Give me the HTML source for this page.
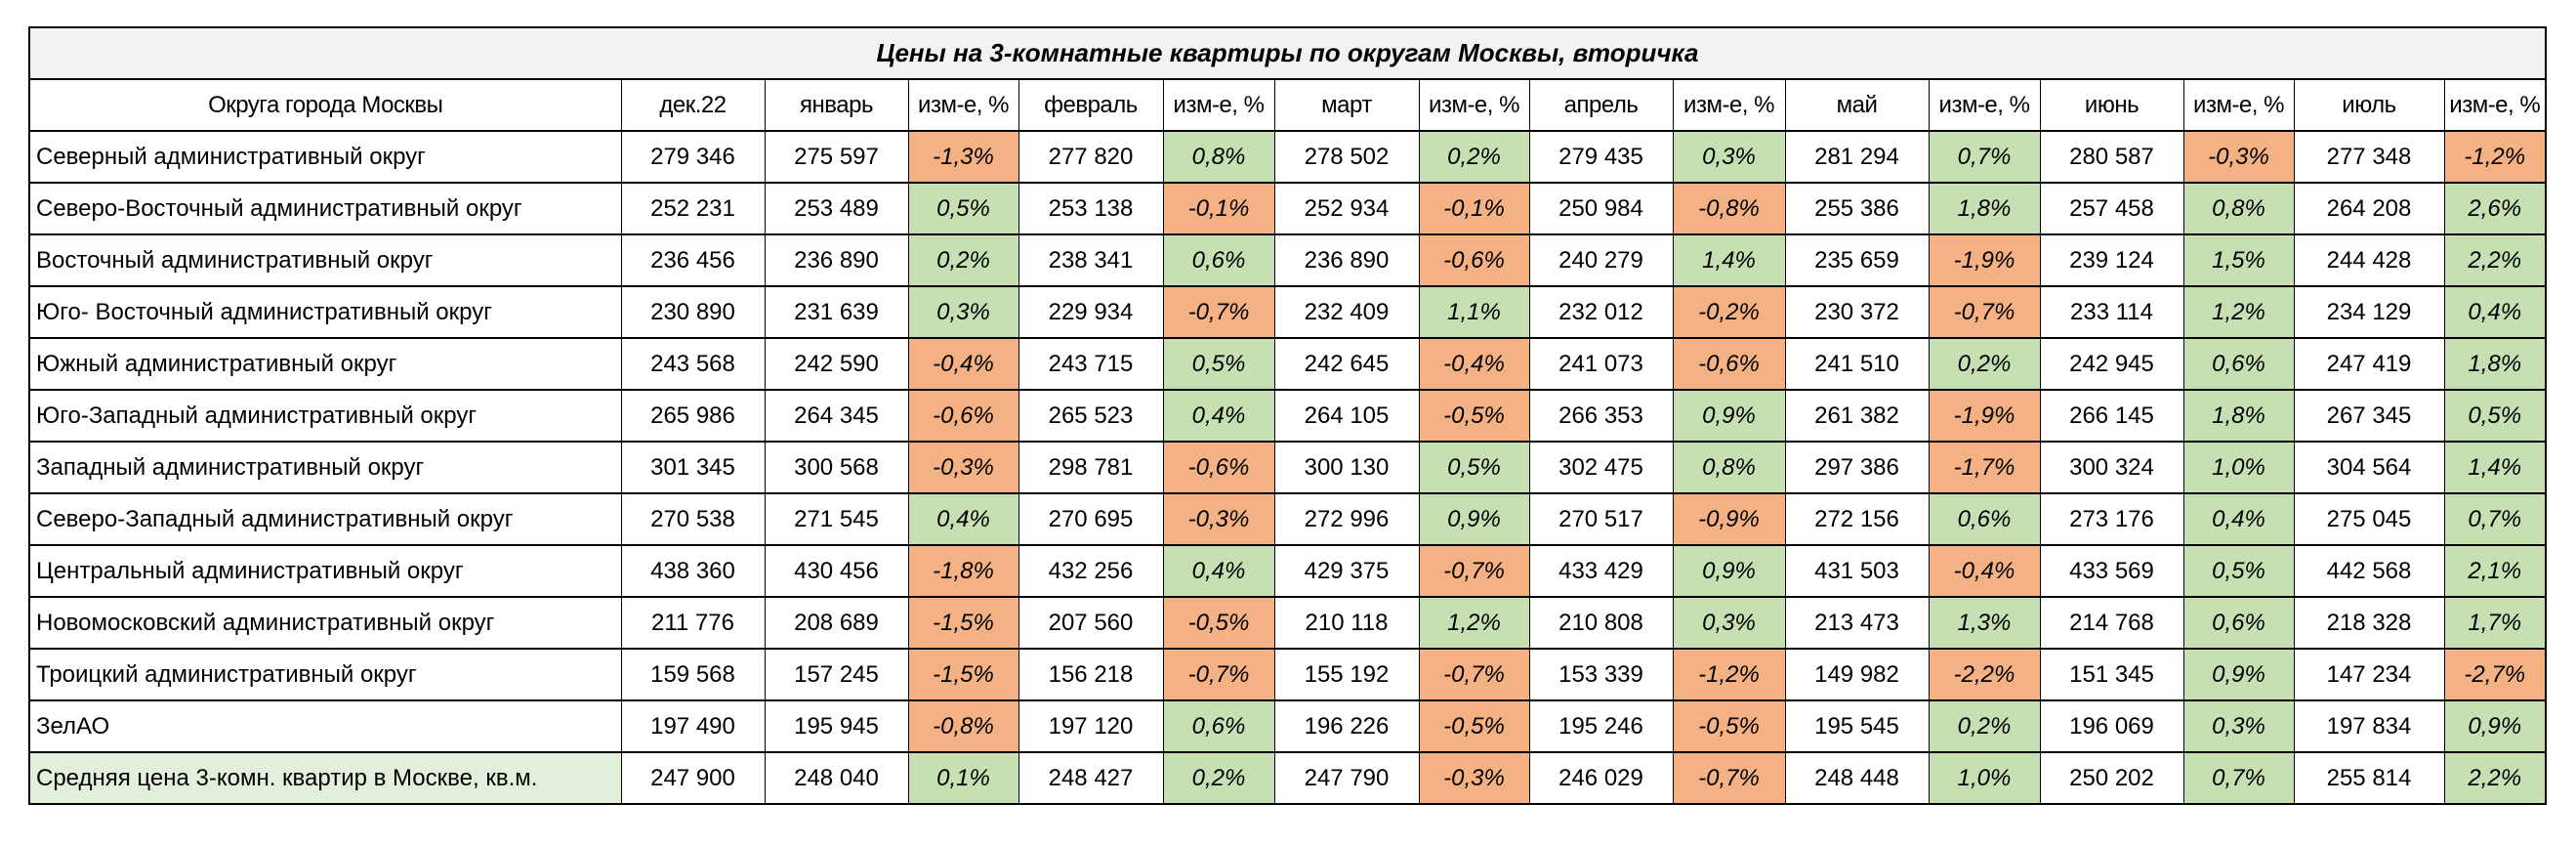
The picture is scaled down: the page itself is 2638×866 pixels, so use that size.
<!DOCTYPE html>
<html><head><meta charset="utf-8">
<style>
html,body{margin:0;padding:0;background:#fff;width:2638px;height:866px;overflow:hidden}
#tbl{position:absolute;left:29px;top:27px;border-collapse:collapse;table-layout:fixed;width:2577px;font-family:"Liberation Sans","Noto Sans CJK SC",sans-serif;font-size:24px;color:#000}
#tbl td{border:1px solid #000;border-top:2px solid #000;border-bottom:2px solid #000;height:51px;padding:0;text-align:center;white-space:nowrap;overflow:hidden}
#tbl td.name{text-align:left;padding-left:6px}
#tbl td.pct{font-style:italic}
#tbl td.neg{background:#F4B183}
#tbl td.pos{background:#C6E0B4}
#tbl td.hdr{letter-spacing:-0.5px}
#tbl td.title{background:#F2F2F2;font-weight:bold;font-style:italic;font-size:26px}
#tbl{border:2px solid #000}
</style></head><body>
<table id="tbl">
<colgroup id="cols"></colgroup>
<tbody id="tb">
<tr><td class="title" colspan="16">Цены на 3-комнатные квартиры по округам Москвы, вторичка</td></tr>
</tbody></table>
<script>
const colWidths=[606,147,147,113,148,114,148,113,147,115,147,114,147,113,154,104];
const headers=["Округа города Москвы","дек.22","январь","изм-е, %","февраль","изм-е, %","март","изм-е, %","апрель","изм-е, %","май","изм-е, %","июнь","изм-е, %","июль","изм-е, %"];
const districts=["Северный административный округ","Северо-Восточный административный округ","Восточный административный округ","Юго- Восточный административный округ","Южный административный округ","Юго-Западный административный округ","Западный административный округ","Северо-Западный административный округ","Центральный административный округ","Новомосковский административный округ","Троицкий административный округ","ЗелАО","Средняя цена 3-комн. квартир в Москве, кв.м."];
const prices=[
[279346,275597,277820,278502,279435,281294,280587,277348],
[252231,253489,253138,252934,250984,255386,257458,264208],
[236456,236890,238341,236890,240279,235659,239124,244428],
[230890,231639,229934,232409,232012,230372,233114,234129],
[243568,242590,243715,242645,241073,241510,242945,247419],
[265986,264345,265523,264105,266353,261382,266145,267345],
[301345,300568,298781,300130,302475,297386,300324,304564],
[270538,271545,270695,272996,270517,272156,273176,275045],
[438360,430456,432256,429375,433429,431503,433569,442568],
[211776,208689,207560,210118,210808,213473,214768,218328],
[159568,157245,156218,155192,153339,149982,151345,147234],
[197490,195945,197120,196226,195246,195545,196069,197834],
[247900,248040,248427,247790,246029,248448,250202,255814]];
const changes=[
[-1.3,0.8,0.2,0.3,0.7,-0.3,-1.2],
[0.5,-0.1,-0.1,-0.8,1.8,0.8,2.6],
[0.2,0.6,-0.6,1.4,-1.9,1.5,2.2],
[0.3,-0.7,1.1,-0.2,-0.7,1.2,0.4],
[-0.4,0.5,-0.4,-0.6,0.2,0.6,1.8],
[-0.6,0.4,-0.5,0.9,-1.9,1.8,0.5],
[-0.3,-0.6,0.5,0.8,-1.7,1.0,1.4],
[0.4,-0.3,0.9,-0.9,0.6,0.4,0.7],
[-1.8,0.4,-0.7,0.9,-0.4,0.5,2.1],
[-1.5,-0.5,1.2,0.3,1.3,0.6,1.7],
[-1.5,-0.7,-0.7,-1.2,-2.2,0.9,-2.7],
[-0.8,0.6,-0.5,-0.5,0.2,0.3,0.9],
[0.1,0.2,-0.3,-0.7,1.0,0.7,2.2]];
const cg=document.getElementById('cols');
colWidths.forEach(w=>{const c=document.createElement('col');c.style.width=w+'px';cg.appendChild(c);});
const tb=document.getElementById('tb');
function fmtNum(n){return String(n).replace(/\B(?=(\d{3})+(?!\d))/g,' ');}
function fmtPct(p){return p.toFixed(1).replace('.',',')+'%';}
const hr=document.createElement('tr');


headers.forEach((h,i)=>{const td=document.createElement('td');td.textContent=h;td.className='hdr';


hr.appendChild(td);});
tb.appendChild(hr);
districts.forEach((d,r)=>{
const tr=document.createElement('tr');


const nt=document.createElement('td');nt.className='name';nt.textContent=d;
if(r===districts.length-1)nt.style.background='#E2EFDA';


tr.appendChild(nt);
const p=prices[r],c=changes[r];
for(let k=0;k<p.length;k++){
const td=document.createElement('td');td.textContent=fmtNum(p[k]);


tr.appendChild(td);
if(k>0){const pc=document.createElement('td');const v=c[k-1];
pc.className='pct '+(v<0?'neg':'pos');pc.textContent=fmtPct(v);


tr.appendChild(pc);}
}
tb.appendChild(tr);
});
</script>
</body></html>
